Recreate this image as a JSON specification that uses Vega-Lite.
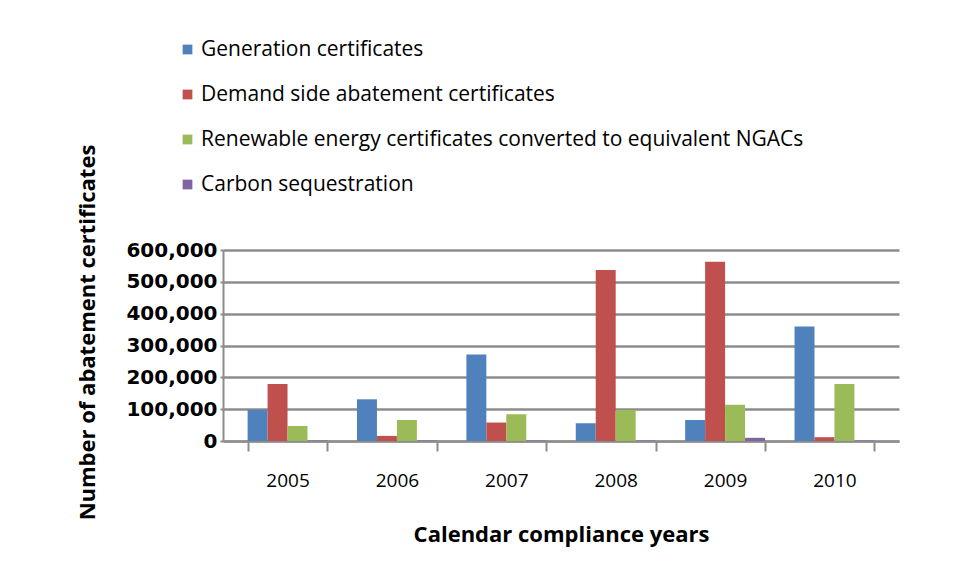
{
  "$schema": "https://vega.github.io/schema/vega-lite/v6.json",
  "width": 676,
  "height": 191,
  "autosize": {"type": "none"},
  "padding": {"left": 223, "top": 250, "right": 57, "bottom": 138},
  "background": "white",
  "data": {
    "values": [
      {"year": "2005", "type": "Generation certificates", "value": 98000},
      {"year": "2005", "type": "Demand side abatement certificates", "value": 179000},
      {"year": "2005", "type": "Renewable energy certificates converted to equivalent NGACs", "value": 47000},
      {"year": "2005", "type": "Carbon sequestration", "value": 1500},
      {"year": "2006", "type": "Generation certificates", "value": 131000},
      {"year": "2006", "type": "Demand side abatement certificates", "value": 16000},
      {"year": "2006", "type": "Renewable energy certificates converted to equivalent NGACs", "value": 66000},
      {"year": "2006", "type": "Carbon sequestration", "value": 1500},
      {"year": "2007", "type": "Generation certificates", "value": 272000},
      {"year": "2007", "type": "Demand side abatement certificates", "value": 58000},
      {"year": "2007", "type": "Renewable energy certificates converted to equivalent NGACs", "value": 84000},
      {"year": "2007", "type": "Carbon sequestration", "value": 1500},
      {"year": "2008", "type": "Generation certificates", "value": 56000},
      {"year": "2008", "type": "Demand side abatement certificates", "value": 537000},
      {"year": "2008", "type": "Renewable energy certificates converted to equivalent NGACs", "value": 97000},
      {"year": "2008", "type": "Carbon sequestration", "value": 1500},
      {"year": "2009", "type": "Generation certificates", "value": 66000},
      {"year": "2009", "type": "Demand side abatement certificates", "value": 563000},
      {"year": "2009", "type": "Renewable energy certificates converted to equivalent NGACs", "value": 114000},
      {"year": "2009", "type": "Carbon sequestration", "value": 10000},
      {"year": "2010", "type": "Generation certificates", "value": 360000},
      {"year": "2010", "type": "Demand side abatement certificates", "value": 12000},
      {"year": "2010", "type": "Renewable energy certificates converted to equivalent NGACs", "value": 179000},
      {"year": "2010", "type": "Carbon sequestration", "value": 1500}
    ]
  },
  "mark": {"type": "bar", "stroke": null},
  "encoding": {
    "x": {
      "field": "year",
      "type": "nominal",
      "scale": {"paddingInner": 0.27, "paddingOuter": 0.225},
      "axis": {
        "title": "Calendar compliance years",
        "titleFont": "Open Sans",
        "titleFontSize": 22,
        "titleFontWeight": "bold",
        "titleColor": "#000",
        "titlePadding": 34,
        "labelAngle": 0,
        "labelFont": "Open Sans",
        "labelFontSize": 19,
        "labelColor": "#000",
        "labelPadding": 20,
        "tickBand": "extent",
        "tickSize": 10,
        "tickColor": "#8c8c8c",
        "tickWidth": 2,
        "domainColor": "#8c8c8c",
        "domainWidth": 2
      }
    },
    "xOffset": {
      "field": "type",
      "type": "nominal",
      "sort": ["Generation certificates", "Demand side abatement certificates", "Renewable energy certificates converted to equivalent NGACs", "Carbon sequestration"]
    },
    "y": {
      "field": "value",
      "type": "quantitative",
      "scale": {"domain": [0, 600000], "nice": false},
      "axis": {
        "title": "Number of abatement certificates",
        "titleFont": "Open Sans",
        "titleFontSize": 22,
        "titleFontWeight": "bold",
        "titleColor": "#000",
        "titlePadding": 26,
        "titleY": 82,
        "values": [0, 100000, 200000, 300000, 400000, 500000, 600000],
        "format": ",d",
        "labelFont": "DejaVu Sans",
        "labelFontSize": 20,
        "labelFontWeight": "bold",
        "labelColor": "#000",
        "labelPadding": 3,
        "tickColor": "#8c8c8c",
        "tickWidth": 2,
        "tickSize": 3,
        "domainColor": "#8c8c8c",
        "domainWidth": 2,
        "grid": true,
        "gridColor": "#8c8c8c",
        "gridWidth": 2.5
      }
    },
    "color": {
      "field": "type",
      "type": "nominal",
      "sort": ["Generation certificates", "Demand side abatement certificates", "Renewable energy certificates converted to equivalent NGACs", "Carbon sequestration"],
      "scale": {
        "domain": ["Generation certificates", "Demand side abatement certificates", "Renewable energy certificates converted to equivalent NGACs", "Carbon sequestration"],
        "range": ["#4F81BD", "#C0504D", "#9BBB59", "#8064A2"]
      },
      "legend": {
        "title": null,
        "orient": "none",
        "legendX": -46,
        "legendY": -211,
        "direction": "vertical",
        "symbolType": "square",
        "symbolSize": 95,
        "symbolStrokeWidth": 0,
        "labelFont": "Open Sans",
        "labelFontSize": 21,
        "labelColor": "#000",
        "labelLimit": 800,
        "rowPadding": 23,
        "labelOffset": 3
      }
    }
  },
  "config": {
    "view": {"stroke": null}
  }
}
